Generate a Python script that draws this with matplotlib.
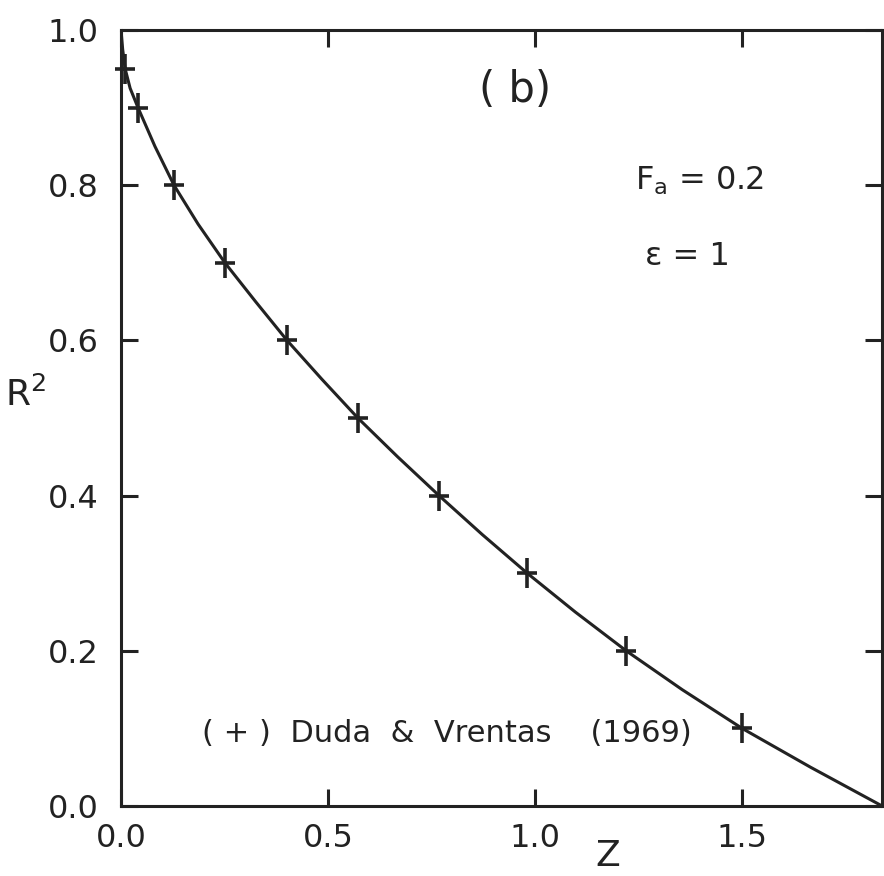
import matplotlib
matplotlib.use("Agg")
import matplotlib.pyplot as plt
from matplotlib.path import Path

plt.rcParams['font.family'] = ['DejaVu Sans']
plt.rcParams['mathtext.fontset'] = 'dejavusans'

INK = "#222222"

# computed profile (solid curve)
curve_z = [0.000, 0.004, 0.010, 0.022, 0.041, 0.082, 0.128, 0.186, 0.251,
           0.325, 0.401, 0.485, 0.572, 0.668, 0.768, 0.872, 0.981, 1.097,
           1.220, 1.355, 1.500, 1.665, 1.838]
curve_r2 = [1.000, 0.975, 0.950, 0.925, 0.900, 0.850, 0.800, 0.750, 0.700,
            0.650, 0.600, 0.550, 0.500, 0.450, 0.400, 0.350, 0.300, 0.250,
            0.200, 0.150, 0.100, 0.050, 0.000]

# Duda & Vrentas (1969) points
duda_z = [0.010, 0.041, 0.128, 0.251, 0.401, 0.572, 0.768, 0.981, 1.220, 1.500]
duda_r2 = [0.95, 0.90, 0.80, 0.70, 0.60, 0.50, 0.40, 0.30, 0.20, 0.10]

x_ticks = [0.0, 0.5, 1.0, 1.5]
x_ticklabels = ["0.0", "0.5", "1.0", "1.5"]
y_ticks = [0.0, 0.2, 0.4, 0.6, 0.8, 1.0]
y_ticklabels = ["0.0", "0.2", "0.4", "0.6", "0.8", "1.0"]

# a '+' that is a bit taller than wide
plus = Path([(-0.7, 0), (0.7, 0), (0, -1), (0, 1)],
            [Path.MOVETO, Path.LINETO, Path.MOVETO, Path.LINETO])

fig = plt.figure(figsize=(8.84, 8.76), dpi=100)
ax = fig.add_axes([0.1369, 0.0799, 0.861, 0.8858])

ax.plot(curve_z, curve_r2, color=INK, lw=2.2, solid_capstyle='round')
ax.plot(duda_z, duda_r2, ls='none', marker=plus, ms=21, mew=2.6,
        color=INK, clip_on=False)

ax.set_xlim(0, 1.838)
ax.set_ylim(0, 1.0)

for s in ax.spines.values():
    s.set_linewidth(2.2)
    s.set_color(INK)

ax.set_xticks(x_ticks)
ax.set_xticklabels(x_ticklabels)
ax.set_yticks(y_ticks)
ax.set_yticklabels(y_ticklabels)
ax.tick_params(direction='in', length=12, width=2.2, color=INK,
               labelsize=23, labelcolor=INK, top=True, right=True)
ax.tick_params(axis='x', pad=12)
ax.tick_params(axis='y', pad=16)

ax.text(0.64, -0.0773, "Z", transform=ax.transAxes, fontsize=26,
        color=INK, ha='center', va='baseline')
ax.text(-0.126, 0.53, r"R$^2$", transform=ax.transAxes, fontsize=26,
        color=INK, ha='center', va='center')

ax.text(0.952, 0.923, "( b)", fontsize=30, color=INK,
        ha='center', va='center')
ax.text(1.242, 0.794, r"F$_{\rm a}$ = 0.2", fontsize=23, color=INK,
        ha='left', va='baseline')
ax.text(1.266, 0.697, "\u03b5 = 1", fontsize=23, color=INK,
        ha='left', va='baseline')
ax.text(0.196, 0.093, "( + )  Duda  &  Vrentas    (1969)", fontsize=22,
        color=INK, ha='left', va='center')

fig.savefig("out.png", dpi=100, facecolor='white')
